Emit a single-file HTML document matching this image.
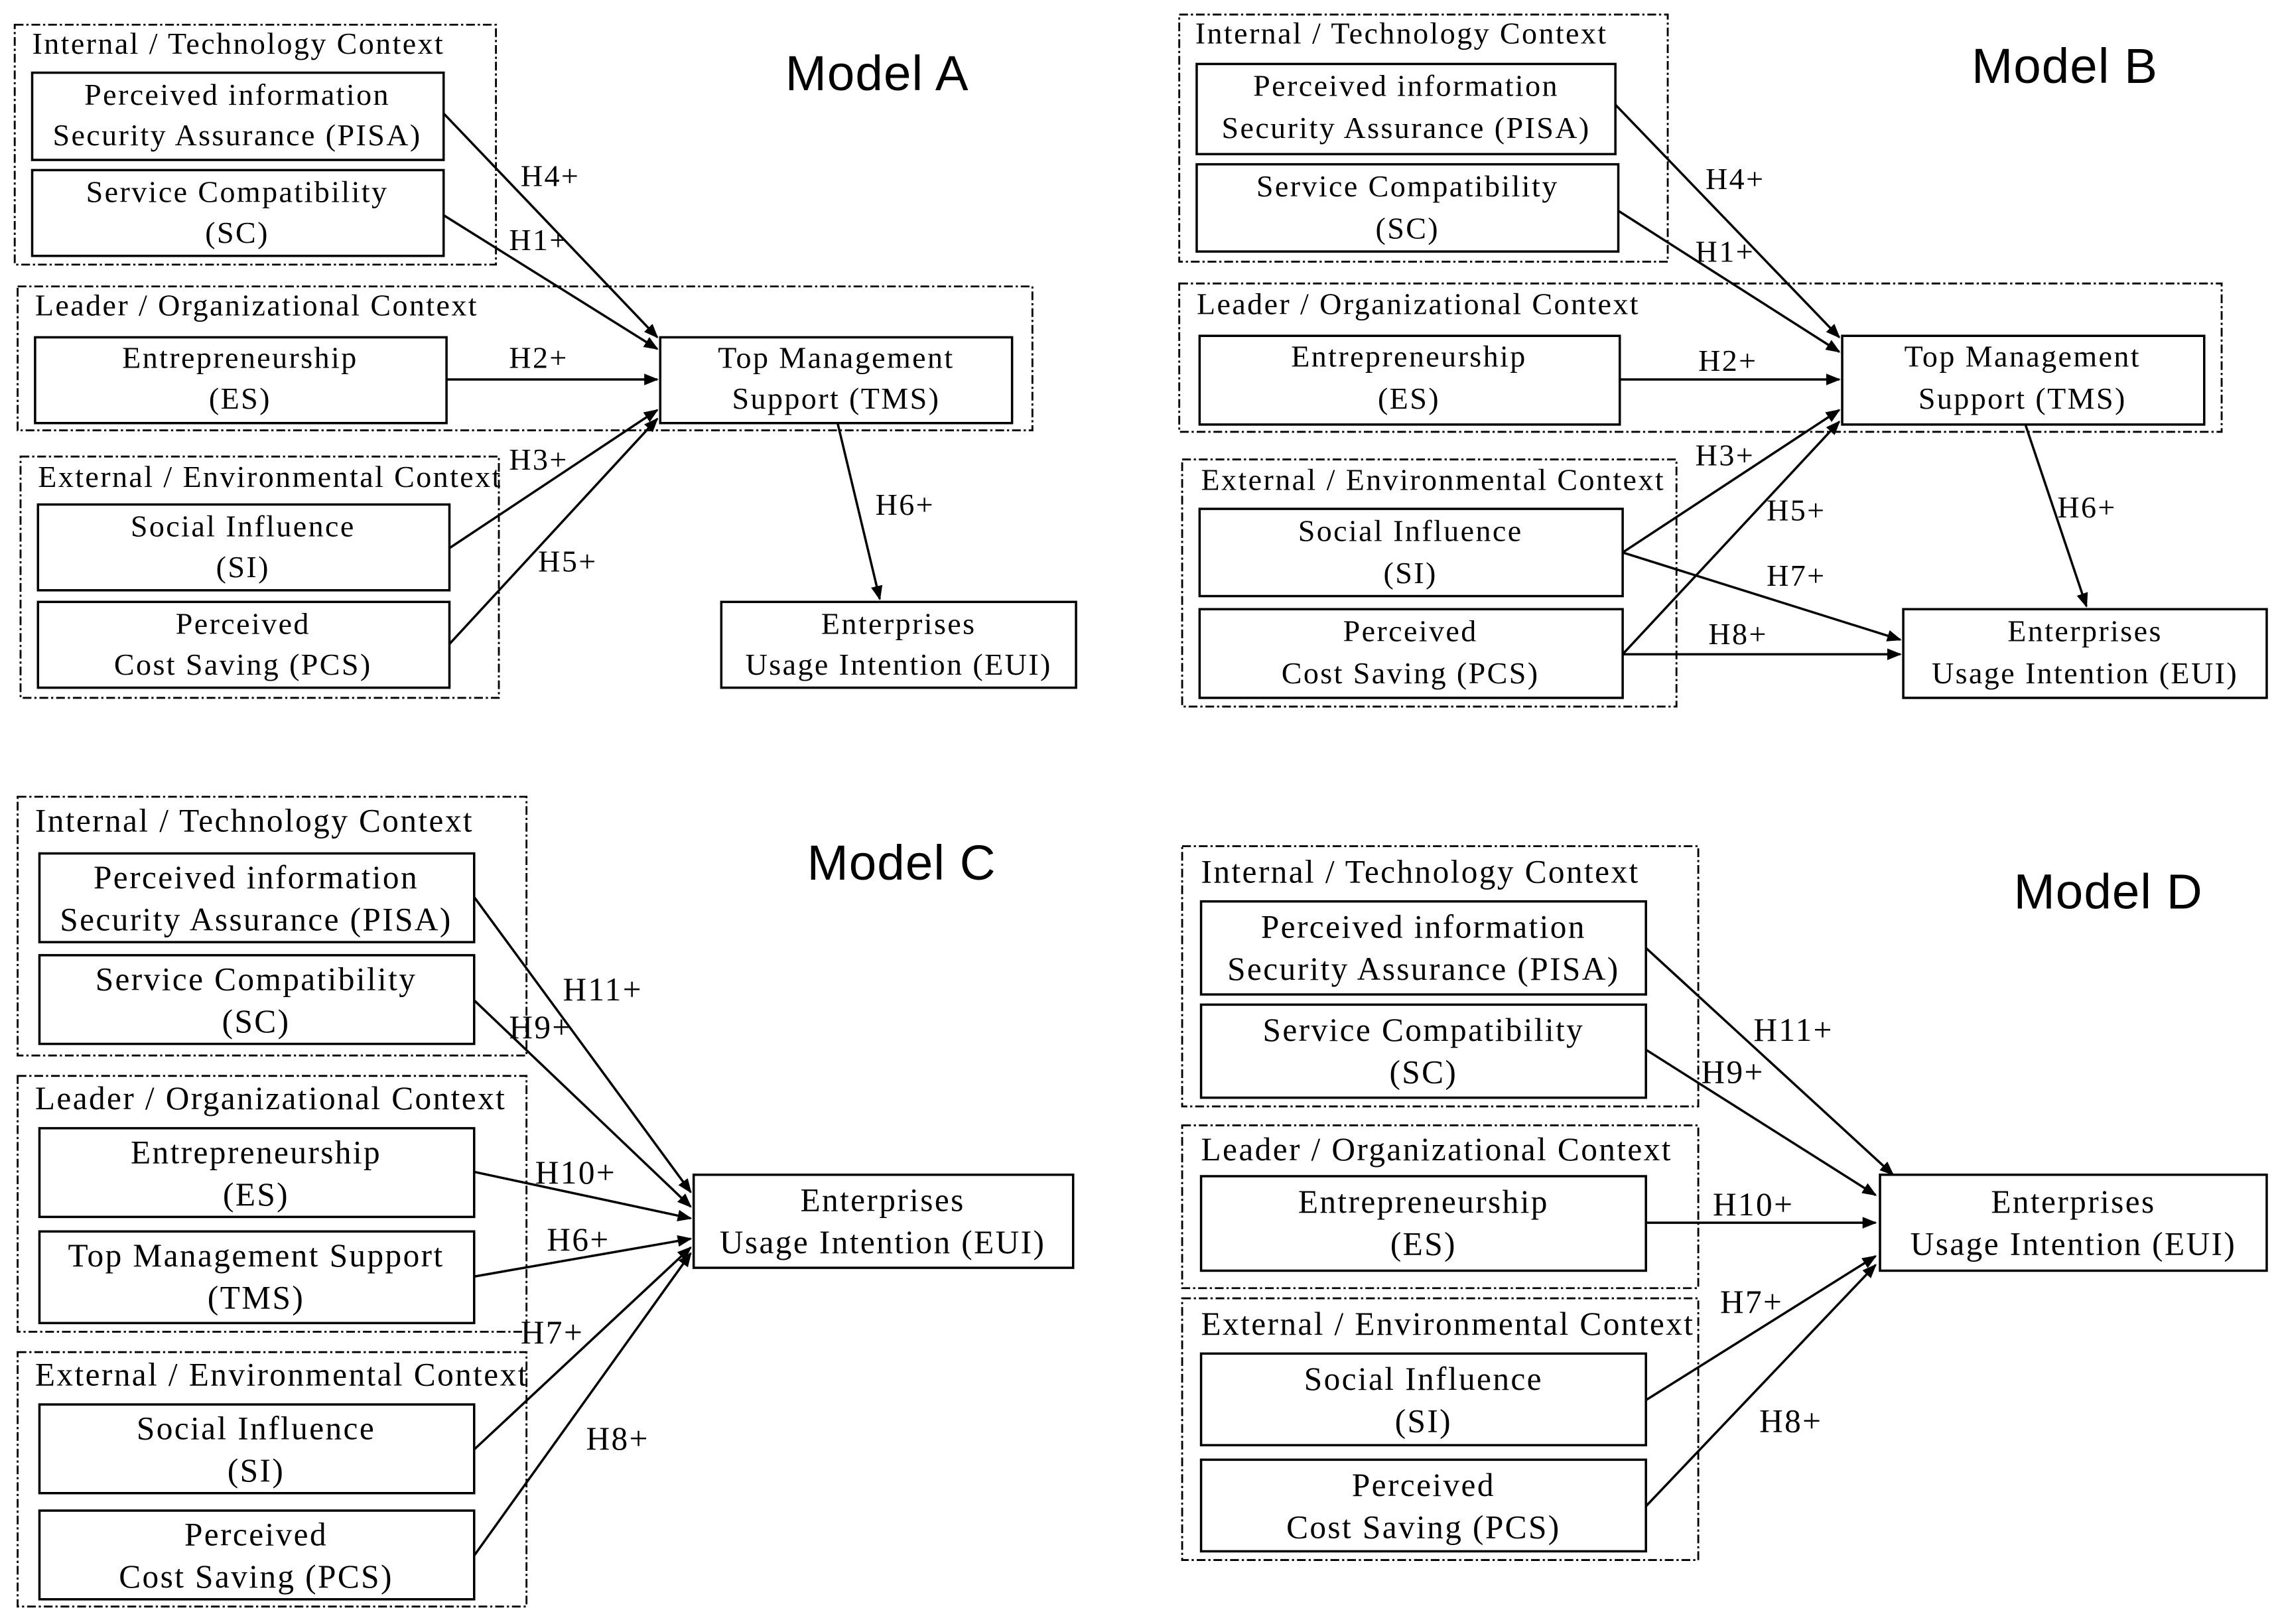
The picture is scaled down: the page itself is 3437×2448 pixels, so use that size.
<!DOCTYPE html>
<html><head><meta charset="utf-8"><style>
html,body{margin:0;padding:0;background:#fff;}
svg{display:block;}
text{font-family:"Liberation Serif",serif;fill:#000;}
.t{font-family:"Liberation Sans",sans-serif;font-size:34px;letter-spacing:0.5px;}
.a{font-size:21px;letter-spacing:1.1px;}
.c{font-size:22.5px;letter-spacing:1.1px;}
</style></head><body>
<svg width="3437" height="2448" viewBox="0 0 1568 1117" xmlns="http://www.w3.org/2000/svg">
<defs><marker id="m" markerWidth="10" markerHeight="8" refX="9" refY="4" orient="auto" markerUnits="userSpaceOnUse"><path d="M0,0 L10,4 L0,8 z" fill="#000"/></marker></defs>
<g fill="none" stroke="#000" stroke-width="1.3" stroke-dasharray="6,2,1.5,2">
<rect x="10" y="17" width="331" height="165"/>
<rect x="12" y="197" width="698" height="99"/>
<rect x="14" y="314" width="329" height="166"/>
<rect x="811" y="10" width="336" height="170"/>
<rect x="811" y="195" width="717" height="102"/>
<rect x="813" y="316" width="340" height="170"/>
<rect x="12" y="548" width="350" height="178"/>
<rect x="12" y="740" width="350" height="176"/>
<rect x="12" y="930" width="350" height="175"/>
<rect x="813" y="582" width="355" height="179"/>
<rect x="813" y="774" width="355" height="112"/>
<rect x="813" y="893" width="355" height="180"/>
</g>
<g fill="#fff" stroke="#000" stroke-width="1.6">
<rect x="22" y="50" width="283" height="60"/><rect x="22" y="117" width="283" height="59"/>
<rect x="24" y="232" width="283" height="59"/><rect x="454" y="232" width="242" height="59"/>
<rect x="26" y="347" width="283" height="59"/><rect x="26" y="414" width="283" height="59"/>
<rect x="496" y="414" width="244" height="59"/>
<rect x="823" y="44" width="288" height="62"/><rect x="823" y="113" width="290" height="60"/>
<rect x="825" y="231" width="289" height="61"/><rect x="1267" y="231" width="249" height="61"/>
<rect x="825" y="350" width="291" height="60"/><rect x="825" y="419" width="291" height="61"/>
<rect x="1309" y="419" width="250" height="61"/>
<rect x="27" y="587" width="299" height="61"/><rect x="27" y="657" width="299" height="61"/>
<rect x="27" y="776" width="299" height="61"/><rect x="27" y="847" width="299" height="63"/>
<rect x="27" y="966" width="299" height="61"/><rect x="27" y="1039" width="299" height="61"/>
<rect x="477" y="808" width="261" height="64"/>
<rect x="826" y="620" width="306" height="64"/><rect x="826" y="691" width="306" height="64"/>
<rect x="826" y="809" width="306" height="65"/>
<rect x="826" y="931" width="306" height="63"/><rect x="826" y="1004" width="306" height="63"/>
<rect x="1293" y="808" width="266" height="66"/>
</g>
<g stroke="#000" stroke-width="1.6" marker-end="url(#m)">
<line x1="305" y1="78" x2="452" y2="232"/><line x1="305" y1="148" x2="452" y2="240"/>
<line x1="307" y1="261" x2="452" y2="261"/><line x1="309" y1="377" x2="452" y2="282"/>
<line x1="309" y1="443" x2="452" y2="288"/><line x1="576" y1="291" x2="605" y2="412"/>
<line x1="1111" y1="72" x2="1265" y2="232"/><line x1="1113" y1="145" x2="1265" y2="242"/>
<line x1="1114" y1="261" x2="1265" y2="261"/><line x1="1116" y1="380" x2="1265" y2="282"/>
<line x1="1116" y1="450" x2="1265" y2="290"/><line x1="1116" y1="380" x2="1307" y2="440"/>
<line x1="1116" y1="450" x2="1307" y2="450"/><line x1="1393" y1="292" x2="1435" y2="417"/>
<line x1="326" y1="617" x2="475" y2="820"/><line x1="326" y1="688" x2="475" y2="830"/>
<line x1="326" y1="806" x2="475" y2="838"/><line x1="326" y1="878" x2="475" y2="852"/>
<line x1="326" y1="997" x2="475" y2="858"/><line x1="326" y1="1070" x2="475" y2="862"/>
<line x1="1132" y1="652" x2="1302" y2="808"/><line x1="1132" y1="722" x2="1290" y2="822"/>
<line x1="1132" y1="841" x2="1290" y2="841"/><line x1="1132" y1="963" x2="1290" y2="864"/>
<line x1="1132" y1="1036" x2="1290" y2="870"/>
</g>
<text class="t" x="540" y="62">Model A</text>
<text class="t" x="1356" y="57">Model B</text>
<text class="t" x="555" y="605">Model C</text>
<text class="t" x="1385" y="625">Model D</text>
<g class="a">
<text x="22" y="37">Internal / Technology Context</text>
<text x="24" y="217">Leader / Organizational Context</text>
<text x="26" y="335">External / Environmental Context</text>
<g text-anchor="middle">
<text x="163" y="72">Perceived information</text><text x="163" y="100">Security Assurance (PISA)</text>
<text x="163" y="139">Service Compatibility</text><text x="163" y="167">(SC)</text>
<text x="165" y="253">Entrepreneurship</text><text x="165" y="281">(ES)</text>
<text x="575" y="253">Top Management</text><text x="575" y="281">Support (TMS)</text>
<text x="167" y="369">Social Influence</text><text x="167" y="397">(SI)</text>
<text x="167" y="436">Perceived</text><text x="167" y="464">Cost Saving (PCS)</text>
<text x="618" y="436">Enterprises</text><text x="618" y="464">Usage Intention (EUI)</text>
</g>
<text x="358" y="128">H4+</text><text x="350" y="172">H1+</text><text x="350" y="253">H2+</text>
<text x="350" y="323">H3+</text><text x="370" y="393">H5+</text><text x="602" y="354">H6+</text>
<text x="822" y="30">Internal / Technology Context</text>
<text x="823" y="216">Leader / Organizational Context</text>
<text x="826" y="337">External / Environmental Context</text>
<g text-anchor="middle">
<text x="967" y="66">Perceived information</text><text x="967" y="95">Security Assurance (PISA)</text>
<text x="968" y="135">Service Compatibility</text><text x="968" y="164">(SC)</text>
<text x="969" y="252">Entrepreneurship</text><text x="969" y="281">(ES)</text>
<text x="1391" y="252">Top Management</text><text x="1391" y="281">Support (TMS)</text>
<text x="970" y="372">Social Influence</text><text x="970" y="401">(SI)</text>
<text x="970" y="441">Perceived</text><text x="970" y="470">Cost Saving (PCS)</text>
<text x="1434" y="441">Enterprises</text><text x="1434" y="470">Usage Intention (EUI)</text>
</g>
<text x="1173" y="130">H4+</text><text x="1166" y="180">H1+</text><text x="1168" y="255">H2+</text>
<text x="1166" y="320">H3+</text><text x="1215" y="358">H5+</text><text x="1215" y="403">H7+</text>
<text x="1175" y="443">H8+</text><text x="1415" y="356">H6+</text>
</g>
<g class="c">
<text x="24" y="572">Internal / Technology Context</text>
<text x="24" y="763">Leader / Organizational Context</text>
<text x="24" y="953">External / Environmental Context</text>
<g text-anchor="middle">
<text x="176" y="611">Perceived information</text><text x="176" y="640">Security Assurance (PISA)</text>
<text x="176" y="681">Service Compatibility</text><text x="176" y="710">(SC)</text>
<text x="176" y="800">Entrepreneurship</text><text x="176" y="829">(ES)</text>
<text x="176" y="871">Top Management Support</text><text x="176" y="900">(TMS)</text>
<text x="176" y="990">Social Influence</text><text x="176" y="1019">(SI)</text>
<text x="176" y="1063">Perceived</text><text x="176" y="1092">Cost Saving (PCS)</text>
<text x="607" y="833">Enterprises</text><text x="607" y="862">Usage Intention (EUI)</text>
</g>
<text x="387" y="688">H11+</text><text x="350" y="714">H9+</text><text x="368" y="814">H10+</text>
<text x="376" y="860">H6+</text><text x="358" y="924">H7+</text><text x="403" y="997">H8+</text>
<text x="826" y="607">Internal / Technology Context</text>
<text x="826" y="798">Leader / Organizational Context</text>
<text x="826" y="918">External / Environmental Context</text>
<g text-anchor="middle">
<text x="979" y="645">Perceived information</text><text x="979" y="674">Security Assurance (PISA)</text>
<text x="979" y="716">Service Compatibility</text><text x="979" y="745">(SC)</text>
<text x="979" y="834">Entrepreneurship</text><text x="979" y="863">(ES)</text>
<text x="979" y="956">Social Influence</text><text x="979" y="985">(SI)</text>
<text x="979" y="1029">Perceived</text><text x="979" y="1058">Cost Saving (PCS)</text>
<text x="1426" y="834">Enterprises</text><text x="1426" y="863">Usage Intention (EUI)</text>
</g>
<text x="1206" y="716">H11+</text><text x="1170" y="745">H9+</text><text x="1178" y="836">H10+</text>
<text x="1183" y="903">H7+</text><text x="1210" y="985">H8+</text>
</g>
</svg>
</body></html>
